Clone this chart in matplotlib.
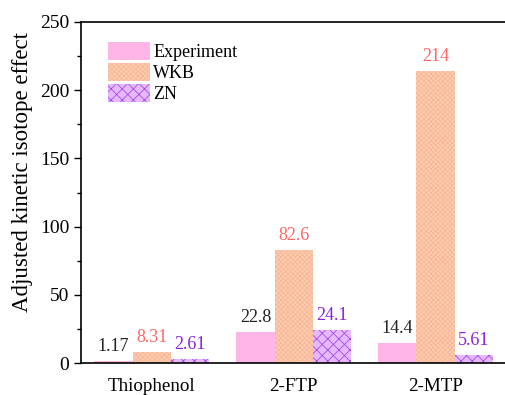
import matplotlib
matplotlib.use("Agg")
import matplotlib.pyplot as plt
import numpy as np

categories = ["Thiophenol", "2-FTP", "2-MTP"]
series_names = ["Experiment", "WKB", "ZN"]
experiment = [1.17, 22.8, 14.4]
wkb = [8.31, 82.6, 214]
zn = [2.61, 24.1, 5.61]
label_text = [["1.17", "22.8", "14.4"], ["8.31", "82.6", "214"], ["2.61", "24.1", "5.61"]]

plt.rcParams['font.family'] = ['Liberation Serif', 'DejaVu Serif']
plt.rcParams['hatch.linewidth'] = 0.6

fig = plt.figure(figsize=(5.05, 3.95), dpi=100)
ax = fig.add_axes([81/505, 1 - 363/395, 1 - 81/505 + 0.003, (363 - 22)/395])

x = np.arange(len(categories))
w = 0.27
face = ["#FFB5E5", "#FFCBAE", "#E6B8FF"]
hatch = [None, "xxxxxxx", "xxx"]
edge = ["#FFB5E5", "#F5B898", "#A64DE8"]
lblcol = ["#222222", "#FF6666", "#8A1FE0"]
data = [experiment, wkb, zn]
for i, (vals, name) in enumerate(zip(data, series_names)):
    bars = ax.bar(x + (i - 1) * w, vals, w, color=face[i], hatch=hatch[i],
                  edgecolor=edge[i], linewidth=0, label=name)
    for b, t in zip(bars, label_text[i]):
        ax.text(b.get_x() + b.get_width() / 2, b.get_height() + 4.5, t,
                ha="center", va="bottom", color=lblcol[i], fontsize=13)

ax.set_xlim(-0.5, 2.5)
ax.set_ylim(0, 250)
ax.set_xticks(x)
ax.set_xticklabels(categories, fontsize=13.7)
ax.tick_params(axis="x", length=0, pad=11)
ax.set_yticks([0, 50, 100, 150, 200, 250])
ax.set_yticks(np.arange(25, 250, 50), minor=True)
ax.tick_params(axis="y", which="major", length=5, width=1, labelsize=14, direction="out")
ax.tick_params(axis="y", which="minor", length=3, width=1, direction="out")
ax.set_ylabel("Adjusted kinetic isotope effect", fontsize=16.5)
ax.yaxis.set_label_coords(-0.113, 0.56)
ax.spines["right"].set_visible(False)
for s in ["left", "bottom", "top"]:
    ax.spines[s].set_linewidth(1.2)

ax.legend(loc="upper left", bbox_to_anchor=(0.064, 0.94), frameon=False, fontsize=13,
          handlelength=2.3, handleheight=1.1, handletextpad=0.2, labelspacing=0.12,
          borderaxespad=0, borderpad=0)

fig.savefig("out.png", dpi=100)
